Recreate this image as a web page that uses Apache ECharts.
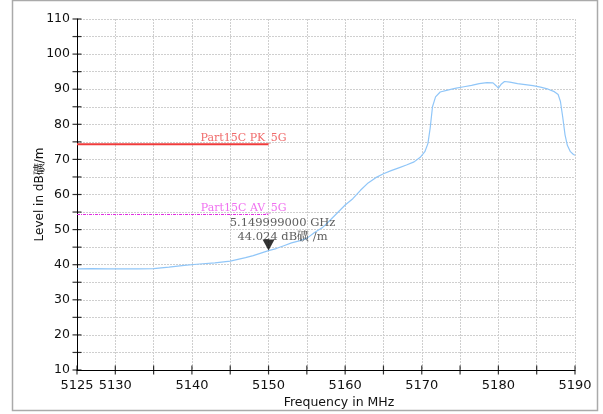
<!DOCTYPE html>
<html><head><meta charset="utf-8">
<script src="https://cdn.jsdelivr.net/npm/echarts@6/dist/echarts.min.js"></script>
<style>html,body{margin:0;padding:0;background:#fff}#c{width:603px;height:414px}</style>
</head><body><div id="c"></div>
<script>
var freqs = [5125,5127,5129,5131,5133,5135,5137,5139,5141,5143,5145,5147,5148,5149,5150,5151,5152,5153,5154,5155,5156,5157,5158,5159,5160,5161,5162,5163,5164,5165,5166,5167,5168,5169,5169.8,5170.4,5170.8,5171.1,5171.4,5171.8,5172.4,5173.5,5174.5,5175.5,5176.5,5177.5,5178.5,5179.3,5179.7,5180,5180.4,5180.8,5181.5,5182.5,5183.5,5184.5,5185.5,5186.5,5187.3,5187.8,5188.1,5188.4,5188.7,5189,5189.4,5189.8,5190];
var levels = [38.8,38.9,38.8,38.8,38.8,38.9,39.3,39.8,40.2,40.5,41.0,42.0,42.6,43.3,44.0,44.6,45.4,46.2,46.8,47.5,49.2,50.5,52.6,54.8,57.0,58.8,61.2,63.3,64.8,65.9,66.8,67.6,68.4,69.3,70.6,72.2,74.5,79,85,87.8,89.2,89.8,90.3,90.7,91.1,91.6,91.9,91.8,91.0,90.3,91.5,92.2,92.0,91.6,91.3,91.0,90.6,90.0,89.3,88.5,86.5,82,77,74,72.2,71.4,71.2];
var limitFreqs = [5125, 5150];
var pkLimit = [74.3, 74.3];
var avLimit = [54.3, 54.3];
var pkName = 'Part15C PK_5G';
var avName = 'Part15C AV_5G';
var markerFreq = 5150;
var markerLevel = 44.024;
var markerText = ['5.149999000 GHz', '44.024 dB礦 /m'];
var xLabelValues = [5125,5130,5140,5150,5160,5170,5180,5190];
var yLabelValues = [10,20,30,40,50,60,70,80,90,100,110];
var xTickValues = [5125,5130,5135,5140,5145,5150,5155,5160,5165,5170,5175,5180,5185,5190];
var yTickValues = [10,15,20,25,30,35,40,45,50,55,60,65,70,75,80,85,90,95,100,105,110];
var xMin = 5125, xMax = 5190, yMin = 10, yMax = 110;

function pairs(xs, ys){ return xs.map(function(x,i){return [x, ys[i]];}); }

var chart = echarts.init(document.getElementById('c'), null, {renderer:'canvas'});
chart.setOption({
  animation:false,
  graphic:[{type:'rect', shape:{x:12.5,y:0.5,width:585,height:410}, style:{fill:'none', stroke:'#aaaaaa', lineWidth:1.5}, silent:true}],
  grid:{left:77, right:28, top:19, bottom:44},
  xAxis:{
    type:'value', min:xMin, max:xMax, interval:5,
    name:'Frequency in MHz', nameLocation:'middle', nameGap:26, nameMoveOverlap:false,
    nameTextStyle:{fontFamily:'DejaVu Sans', fontSize:12.5, color:'#111', padding:[0,0,0,26]},
    axisLine:{show:true, lineStyle:{color:'#000', width:1}},
    axisTick:{show:false},
    axisLabel:{customValues:xLabelValues, formatter:function(v){return String(v);}, fontFamily:'DejaVu Sans', fontSize:13, color:'#111', margin:9},
    splitLine:{show:true, lineStyle:{color:'#cfcfcf', type:[2,1], width:1}}
  },
  yAxis:{
    type:'value', min:yMin, max:yMax, interval:5,
    name:'Level in dB礦/m', nameLocation:'middle', nameGap:31, nameRotate:90, nameMoveOverlap:false,
    nameTextStyle:{fontFamily:'DejaVu Sans', fontSize:12, color:'#111'},
    axisLine:{show:true, lineStyle:{color:'#000', width:1}},
    axisTick:{show:false},
    axisLabel:{customValues:yLabelValues, fontFamily:'DejaVu Sans', fontSize:12.5, color:'#111', margin:7},
    splitLine:{show:true, lineStyle:{color:'#cfcfcf', type:[2,1], width:1}}
  },
  series:[
    {type:'line', name:'trace', data:pairs(freqs, levels), showSymbol:false, symbol:'none',
     lineStyle:{color:'#90c6f8', width:1.2}, z:3},
    {type:'line', name:pkName, data:pairs(limitFreqs, pkLimit), symbol:'none', showSymbol:false,
     lineStyle:{color:'#f03c3c', width:2}, z:2,
     endLabel:{show:true, formatter:pkName, fontFamily:'DejaVu Serif', fontSize:11, color:'#f06a6a', align:'right', verticalAlign:'bottom', offset:[18,-1], distance:0}},
    {type:'line', name:avName, data:pairs(limitFreqs, avLimit), symbol:'none', showSymbol:false,
     lineStyle:{color:'#e030e0', width:1, type:[3,1,1,1]}, z:2,
     endLabel:{show:true, formatter:avName, fontFamily:'DejaVu Serif', fontSize:11, color:'#f070f0', align:'right', verticalAlign:'bottom', offset:[18,-1], distance:0}},
    {type:'scatter', name:'marker', data:[[markerFreq, markerLevel]], symbol:'triangle', symbolRotate:180, symbolSize:[12,11], symbolOffset:[0,-5.5],
     itemStyle:{color:'#000'}, z:5,
     label:{show:true, position:'top', distance:0, offset:[14,4], align:'center',
       formatter:markerText.join('\n'), fontFamily:'DejaVu Serif', fontSize:11.5, lineHeight:14, color:'#333'}},
    {type:'scatter', name:'xticks', data:xTickValues.map(function(v){return [v, yMin];}), symbol:'rect', symbolSize:[1.2,9],
     itemStyle:{color:'#000'}, clip:false, silent:true, z:4},
    {type:'scatter', name:'yticks', data:yTickValues.map(function(v){return [xMin, v];}), symbol:'rect', symbolSize:[9,1.2],
     itemStyle:{color:'#000'}, clip:false, silent:true, z:4}
  ]
});
</script></body></html>
